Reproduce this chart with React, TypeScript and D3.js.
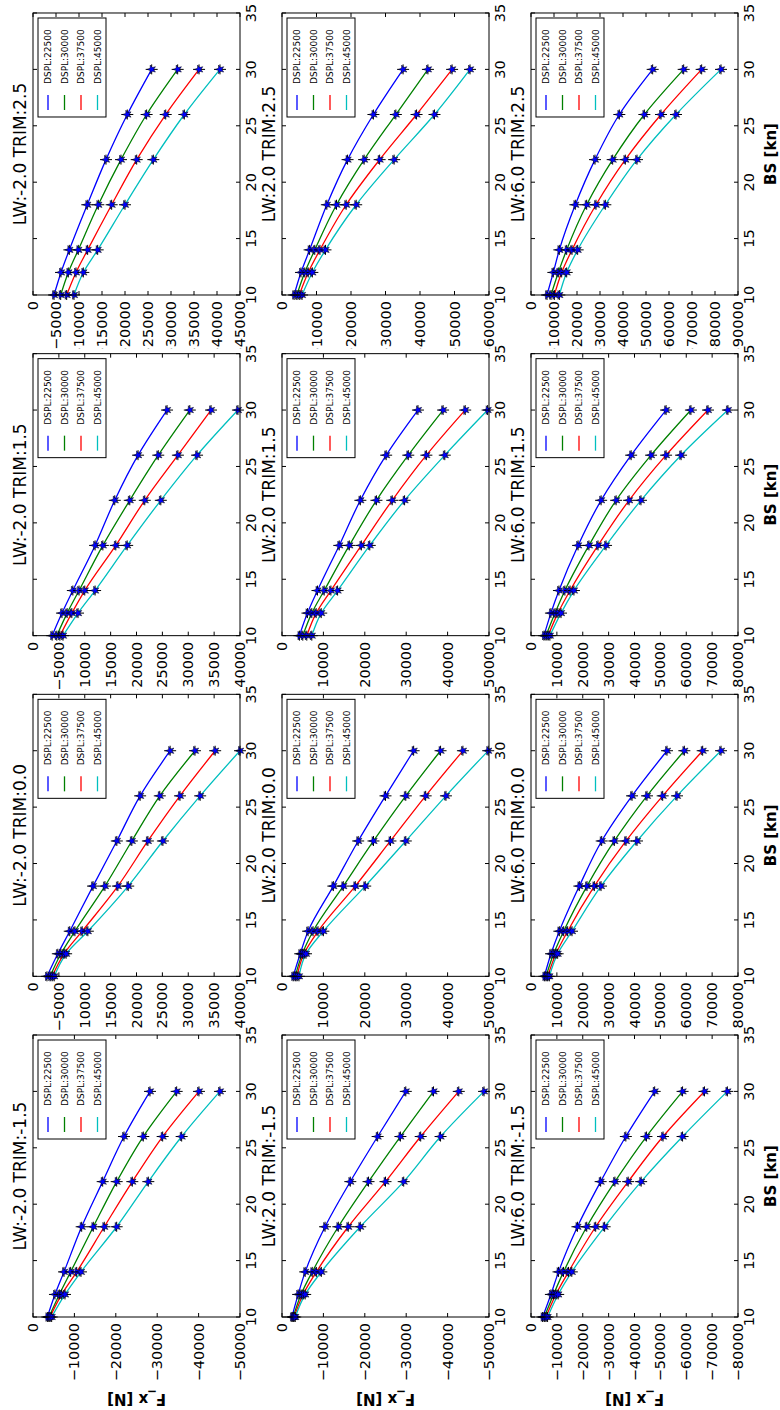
import React from 'react';
import * as d3 from 'd3';

// ---------- data ----------
const BS = [10, 12, 14, 18, 22, 26, 30];
const BS_TICKS = [10, 15, 20, 25, 30, 35];
const DSPL = [22500, 30000, 37500, 45000];
const LW = [-2.0, 2.0, 6.0];
const TRIM = [-1.5, 0.0, 1.5, 2.5];
const SERIES_COLORS = ['#0000ff', '#008000', '#ff0000', '#00bfbf'];

// F_x [N] per panel, one row per DSPL, values at BS points
const FX_LWm2_TRIMm15 = [
  [-3460, -5310, -7490, -11760, -16830, -21980, -28260],
  [-3860, -6360, -9100, -14570, -20210, -26640, -34700],
  [-4100, -6930, -10550, -17220, -23990, -31320, -40090],
  [-4510, -7730, -11590, -20210, -27850, -35910, -45160],
];
const FX_LWm2_TRIM00 = [
  [-2700, -4800, -7100, -11600, -16200, -20700, -26500],
  [-3300, -5400, -8100, -13900, -19100, -24500, -31300],
  [-3700, -6000, -9500, -16400, -22200, -28400, -35200],
  [-4100, -6400, -10600, -18400, -25100, -32300, -40000],
];
const FX_LWm2_TRIM15 = [
  [-3700, -5600, -7700, -12000, -15800, -20300, -25900],
  [-4600, -6600, -8900, -13500, -18700, -24200, -30300],
  [-5200, -7500, -10000, -16000, -21600, -28000, -34400],
  [-5800, -8700, -12000, -18200, -24700, -31700, -39600],
];
const FX_LWm2_TRIM25 = [
  [-4570, -6090, -7900, -11800, -15870, -20500, -25800],
  [-6020, -7680, -9850, -14200, -19130, -24700, -31450],
  [-7320, -9350, -11880, -17100, -22540, -28850, -36100],
  [-8910, -10940, -14060, -20000, -26160, -32900, -40650],
];
const FX_LW2_TRIMm15 = [
  [-2400, -3900, -5600, -10400, -16500, -23100, -29900],
  [-2700, -4600, -7300, -13600, -20900, -28600, -36600],
  [-2900, -5100, -8300, -16000, -25000, -33500, -42700],
  [-3200, -5600, -9500, -18900, -29400, -38300, -48800],
];
const FX_LW2_TRIM00 = [
  [-2700, -4400, -6300, -12400, -18400, -25000, -31800],
  [-3200, -4900, -7500, -14800, -22100, -29900, -38300],
  [-3600, -5300, -8700, -17700, -26200, -34700, -43700],
  [-4100, -5800, -10000, -20100, -29900, -39600, -49800],
];
const FX_LW2_TRIM15 = [
  [-4210, -6150, -8570, -13830, -18930, -25160, -32840],
  [-5020, -7200, -10190, -16260, -22810, -30500, -38910],
  [-5990, -8250, -11810, -19170, -26620, -34870, -44250],
  [-7200, -9470, -13430, -21200, -29610, -39320, -49670],
];
const FX_LW2_TRIM25 = [
  [-3500, -5500, -8000, -13000, -19000, -26500, -35100],
  [-4300, -6600, -9500, -15800, -23800, -33000, -42300],
  [-5000, -7600, -11000, -18600, -28300, -39000, -49300],
  [-5800, -8800, -12600, -21500, -32500, -44200, -54500],
];
const FX_LW6_TRIMm15 = [
  [-4490, -7690, -10640, -17950, -26920, -36660, -47800],
  [-5130, -8720, -12560, -21540, -32430, -44610, -58580],
  [-5770, -9620, -14490, -25000, -37560, -51030, -67040],
  [-6410, -10510, -15770, -28460, -42570, -58580, -75890],
];
const FX_LW6_TRIM00 = [
  [-5150, -7730, -10950, -18680, -27320, -39040, -52560],
  [-5800, -8760, -12630, -21640, -32210, -44830, -59260],
  [-6440, -9660, -14170, -24480, -36720, -50890, -66350],
  [-7090, -10300, -15850, -27060, -40970, -56430, -73440],
];
const FX_LW6_TRIM15 = [
  [-5000, -7700, -10800, -18200, -27100, -38700, -52200],
  [-5800, -9300, -13100, -22400, -32900, -46400, -61800],
  [-6600, -10400, -15100, -25900, -37900, -52200, -68400],
  [-7300, -11600, -16600, -29000, -42500, -58000, -76100],
];
const FX_LW6_TRIM25 = [
  [-6960, -9710, -12320, -19270, -27830, -38400, -52900],
  [-8700, -11880, -15510, -24200, -35510, -49280, -66380],
  [-10150, -13330, -17830, -28260, -41010, -56520, -74200],
  [-12320, -15510, -20290, -32320, -46090, -63040, -82610],
];

const FX = [
  [FX_LWm2_TRIMm15, FX_LWm2_TRIM00, FX_LWm2_TRIM15, FX_LWm2_TRIM25],
  [FX_LW2_TRIMm15, FX_LW2_TRIM00, FX_LW2_TRIM15, FX_LW2_TRIM25],
  [FX_LW6_TRIMm15, FX_LW6_TRIM00, FX_LW6_TRIM15, FX_LW6_TRIM25],
];
const FX_LIMIT = [
  [-50000, -40000, -40000, -45000],
  [-50000, -50000, -50000, -60000],
  [-80000, -80000, -80000, -90000],
];
const FX_STEP = [
  [10000, 5000, 5000, 5000],
  [10000, 10000, 10000, 10000],
  [10000, 10000, 10000, 10000],
];

// ---------- layout (figure drawn landscape, then rotated) ----------
const FIG_W = 1410;
const FIG_H = 780;
const AX_W = 282;
const AX_H = 207;
const COL_X0 = 93;
const COL_DX = 340.67;
const ROW_Y0 = 33;
const ROW_DY = 249;
const FONT = 'DejaVu Sans, Verdana, sans-serif';
const TICK_FS = 14.5;

const fmt = (v: number) => (v === 0 ? '0' : '\u2212' + Math.abs(v));

function starPath(r: number, ri: number) {
  const pts: [number, number][] = [];
  for (let i = 0; i < 10; i++) {
    const a = -Math.PI / 2 + (i * Math.PI) / 5;
    const rr = i % 2 === 0 ? r : ri;
    pts.push([rr * Math.cos(a), rr * Math.sin(a)]);
  }
  return 'M' + pts.map((p) => p[0].toFixed(2) + ',' + p[1].toFixed(2)).join('L') + 'Z';
}
const STAR = starPath(4.6, 1.9);

function Panel({ li, ti }: { li: number; ti: number }) {
  const x0 = COL_X0 + ti * COL_DX;
  const y0 = ROW_Y0 + li * ROW_DY;
  const lim = FX_LIMIT[li][ti];
  const step = FX_STEP[li][ti];
  const xs = d3.scaleLinear().domain([10, 35]).range([x0, x0 + AX_W]);
  const ys = d3.scaleLinear().domain([lim, 0]).range([y0 + AX_H, y0]);
  const yTicks = d3.range(0, lim - step / 2, -step);
  const line = d3
    .line<number>()
    .x((_, i) => xs(BS[i]))
    .y((d) => ys(d))
    .curve(d3.curveMonotoneX);
  const data = FX[li][ti];
  const clipId = `cell-${li}-${ti}`;
  const axId = `ax-${li}-${ti}`;
  const tl = 4;
  const lgW = 99;
  const lgH = 68;
  const lgX = x0 + AX_W - 5 - lgW;
  const lgY = y0 + 5;

  return (
    <g clipPath={ti > 0 ? `url(#${clipId})` : undefined}>
      <defs>
        <clipPath id={clipId}>
          <rect x={x0 - 53.6} y={-20} width={AX_W + 200} height={FIG_H + 40} />
        </clipPath>
        <clipPath id={axId}>
          <rect x={x0} y={y0} width={AX_W} height={AX_H} />
        </clipPath>
      </defs>
      <rect x={x0} y={y0} width={AX_W} height={AX_H} fill="#fff" />
      <g clipPath={`url(#${axId})`}>
        {data.map((s, k) => (
          <path key={k} d={line(s) || ''} fill="none" stroke={SERIES_COLORS[k]} strokeWidth={1.3} />
        ))}
      </g>
      {data.map((s, k) =>
        s.map((v, i) => {
          const cx = xs(BS[i]);
          const cy = ys(v);
          return (
            <g key={`${k}-${i}`} transform={`translate(${cx},${cy})`}>
              <path d="M-5,0H5M0,-6V6" stroke="#000" strokeWidth={1} />
              <path d={STAR} fill="#0000ff" stroke="#000" strokeWidth={0.5} />
            </g>
          );
        })
      )}
      <rect x={x0} y={y0} width={AX_W} height={AX_H} fill="none" stroke="#000" strokeWidth={1} />
      {BS_TICKS.map((t) => (
        <g key={`bx${t}`}>
          <line x1={xs(t)} x2={xs(t)} y1={y0 + AX_H} y2={y0 + AX_H - tl} stroke="#000" />
          <line x1={xs(t)} x2={xs(t)} y1={y0} y2={y0 + tl} stroke="#000" />
          <text x={xs(t)} y={y0 + AX_H + 15.5} fontSize={TICK_FS} textAnchor="middle" fontFamily={FONT}>
            {t}
          </text>
        </g>
      ))}
      {yTicks.map((t) => (
        <g key={`fy${t}`}>
          <line x1={x0} x2={x0 + tl} y1={ys(t)} y2={ys(t)} stroke="#000" />
          <line x1={x0 + AX_W} x2={x0 + AX_W - tl} y1={ys(t)} y2={ys(t)} stroke="#000" />
          <text
            x={x0 - 6}
            y={ys(t)}
            fontSize={TICK_FS}
            textAnchor="end"
            dominantBaseline="central"
            fontFamily={FONT}
          >
            {fmt(t)}
          </text>
        </g>
      ))}
      <text x={x0 + AX_W / 2} y={y0 - 7} fontSize={17} textAnchor="middle" fontFamily={FONT}>
        {`LW:${LW[li].toFixed(1)} TRIM:${TRIM[ti].toFixed(1)}`}
      </text>
      <rect x={lgX} y={lgY} width={lgW} height={lgH} fill="#fff" stroke="#000" strokeWidth={1} />
      {DSPL.map((d, k) => {
        const yy = lgY + 10 + k * 16.5;
        return (
          <g key={`lg${d}`}>
            <line x1={lgX + 7} x2={lgX + 22} y1={yy} y2={yy} stroke={SERIES_COLORS[k]} strokeWidth={1.3} />
            <text x={lgX + 33} y={yy} fontSize={9} dominantBaseline="central" fontFamily={FONT}>
              {`DSPL:${d}`}
            </text>
          </g>
        );
      })}
      {li === LW.length - 1 && (
        <text
          x={x0 + AX_W / 2}
          y={776}
          fontSize={15}
          fontWeight="bold"
          textAnchor="middle"
          fontFamily={FONT}
        >
          BS [kn]
        </text>
      )}
      {ti === 0 && (
        <text
          transform={`translate(16,${y0 + AX_H / 2}) rotate(-90)`}
          fontSize={15}
          fontWeight="bold"
          textAnchor="middle"
          fontFamily={FONT}
        >
          F_x [N]
        </text>
      )}
    </g>
  );
}

export default function App() {
  const cells: JSX.Element[] = [];
  LW.forEach((_, li) =>
    TRIM.forEach((__, ti) => {
      cells.push(<Panel key={`${li}-${ti}`} li={li} ti={ti} />);
    })
  );
  return (
    <svg
      width={780}
      height={1410}
      style={{ position: 'absolute', left: 0, top: 0, background: '#fff' }}
    >
      <rect width={780} height={1410} fill="#fff" />
      <g transform={`translate(0,${FIG_W}) rotate(-90)`}>{cells}</g>
    </svg>
  );
}
